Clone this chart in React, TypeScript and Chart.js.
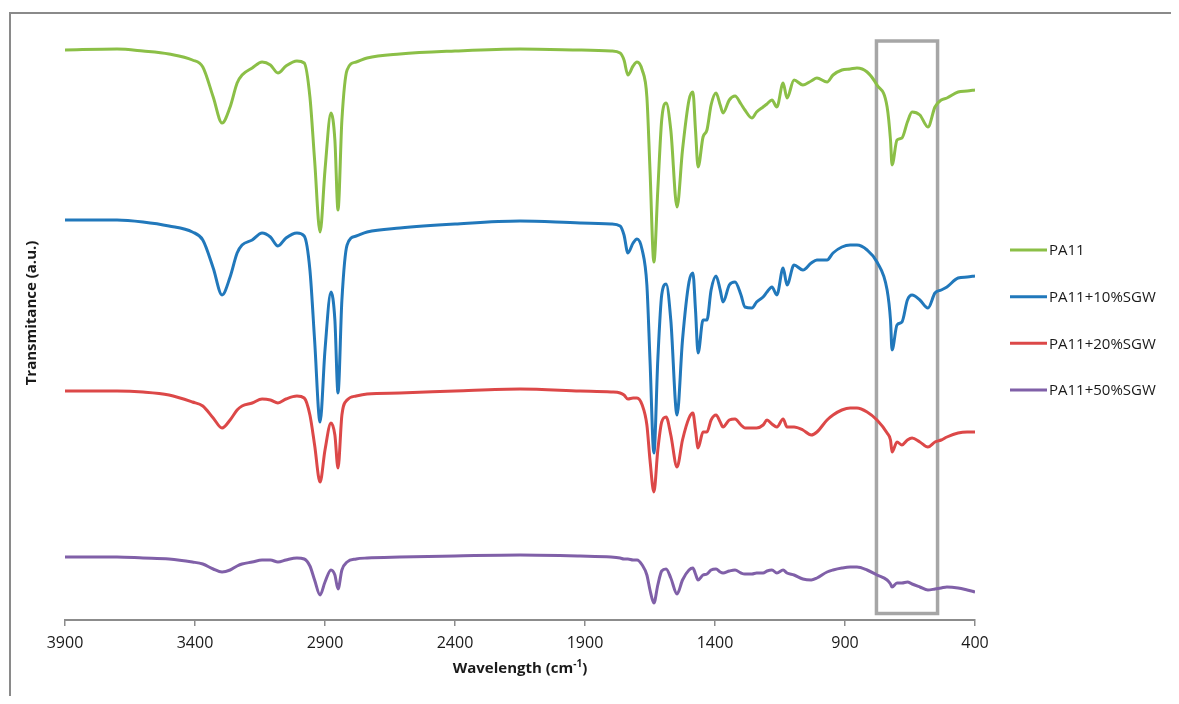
import React, { useEffect, useRef } from "react";
import { Chart, registerables } from "chart.js";

Chart.register(...registerables);

// Wavenumber grid (cm-1), shared by all spectra
const wavenumbers = [
  3900, 3700, 3600, 3500, 3410, 3370, 3330, 3296, 3265, 3238,
  3219, 3180, 3142, 3110, 3081, 3050, 3008, 2980, 2958, 2940,
  2919, 2900, 2877, 2862, 2850, 2835, 2815, 2780, 2738, 2612,
  2400, 2150, 1919, 1800, 1765, 1750, 1735, 1715, 1700, 1680,
  1662, 1650, 1635, 1620, 1605, 1588, 1570, 1546, 1525, 1500,
  1485, 1475, 1465, 1446, 1431, 1415, 1396, 1380, 1369, 1345,
  1323, 1300, 1285, 1258, 1240, 1215, 1200, 1181, 1162, 1138,
  1123, 1096, 1062, 1030, 1008, 969, 946, 912, 880, 854,
  815, 777, 738, 725, 719, 700, 681, 660, 642, 612,
  581, 554, 530, 508, 465, 430, 400,
];

// Transmittance (a.u., offset stacked)
const pa11 = [
  570, 571, 569, 566, 560, 553, 523, 497, 513, 537,
  545, 552, 558, 555, 547, 554, 559, 557, 523, 460,
  388, 450, 507, 480, 410, 500, 550, 558, 562, 566,
  569, 571, 570, 569, 567, 560, 545, 554, 558, 550,
  523, 450, 358, 430, 500, 517, 490, 413, 470, 520,
  528, 490, 453, 483, 490, 515, 527, 515, 507, 520,
  524, 516, 510, 502, 508, 513, 516, 520, 513, 537,
  522, 540, 535, 539, 542, 538, 545, 550, 551, 552,
  548, 535, 513, 480, 455, 480, 482, 498, 508, 505,
  493, 513, 520, 522, 528, 529, 530,
];

const pa11Sgw10 = [
  400, 400, 398, 394, 388, 380, 352, 325, 343, 367,
  375, 380, 387, 383, 374, 382, 387, 384, 350, 280,
  198, 270, 328, 300, 227, 320, 375, 384, 388, 392,
  396, 399, 397, 396, 394, 385, 367, 377, 381, 370,
  335, 260, 167, 260, 325, 336, 300, 205, 280, 338,
  347, 310, 267, 300, 300, 330, 344, 330, 318, 335,
  338, 325, 313, 312, 318, 323, 328, 333, 325, 352,
  335, 355, 350, 357, 360, 360, 367, 373, 375, 375,
  370, 358, 330, 300, 270, 295, 298, 320, 325, 320,
  312, 327, 330, 333, 342, 343, 344,
];

const pa11Sgw20 = [
  229, 229, 228, 225, 218, 214, 202, 192, 200, 210,
  214, 217, 221, 220, 217, 221, 224, 222, 205, 175,
  138, 170, 197, 185, 152, 205, 220, 224, 226, 227,
  229, 231, 229, 228, 227, 225, 221, 222, 222, 215,
  195, 160, 128, 170, 198, 203, 185, 153, 180, 202,
  207, 190, 172, 188, 188, 200, 205, 198, 193, 200,
  201, 195, 192, 192, 192, 195, 200, 196, 193, 201,
  193, 193, 190, 185, 188, 200, 205, 210, 212, 212,
  208, 200, 187, 180, 168, 178, 175, 180, 182, 178,
  173, 178, 180, 183, 187, 188, 188,
];

const pa11Sgw50 = [
  63, 63, 62, 61, 58, 56, 51, 48, 50, 54,
  56, 58, 60, 60, 58, 60, 62, 61, 54, 40,
  25, 38, 50, 45, 31, 50, 58, 61, 62, 63,
  64, 65, 64, 63, 62, 61, 61, 60, 60, 55,
  45, 30, 17, 35, 49, 51, 42, 26, 40, 50,
  52, 46, 40, 45, 46, 50, 51, 48, 47, 49,
  50, 47, 46, 46, 47, 47, 49, 50, 47, 50,
  47, 45, 41, 40, 42, 48, 50, 52, 53, 53,
  50, 45, 40, 36, 33, 37, 37, 38, 36, 33,
  30, 31, 32, 33, 32, 30, 28,
];

const seriesLabels = ["PA11", "PA11+10%SGW", "PA11+20%SGW", "PA11+50%SGW"];
const seriesValues = [pa11, pa11Sgw10, pa11Sgw20, pa11Sgw50];
const seriesColors = ["#8bbf47", "#2178bb", "#dc4848", "#8060a8"];

const xTicks = [3900, 3400, 2900, 2400, 1900, 1400, 900, 400];
// highlighted region (cm-1) and its vertical extent (a.u.)
const highlightRange = [779, 544];
const highlightLevels = [6.5, 579];

const FONT = "'Open Sans', 'Noto Sans', sans-serif";
const TEXT = "#1a1a1a";

const decorPlugin = {
  id: "decor",
  beforeDatasetsDraw(chart: any) {
    const { ctx, scales } = chart;
    const x = scales.x;
    const y = scales.y;
    const x1 = x.getPixelForValue(highlightRange[0]);
    const x2 = x.getPixelForValue(highlightRange[1]);
    const y1 = y.getPixelForValue(highlightLevels[1]);
    const y2 = y.getPixelForValue(highlightLevels[0]);
    ctx.save();
    ctx.strokeStyle = "#a6a6a6";
    ctx.lineWidth = 3.5;
    ctx.strokeRect(x1, y1, x2 - x1, y2 - y1);
    ctx.restore();
  },
  afterDraw(chart: any) {
    const { ctx, chartArea } = chart;
    const { left, right, top, bottom } = chartArea;
    ctx.save();
    // legend
    const cy = (top + bottom) / 2;
    ctx.font = `15px ${FONT}`;
    ctx.textBaseline = "middle";
    ctx.textAlign = "left";
    seriesLabels.forEach((lab, i) => {
      const yy = cy + (i - 1.5) * 46.7;
      ctx.strokeStyle = seriesColors[i];
      ctx.lineWidth = 3;
      ctx.lineCap = "butt";
      ctx.beginPath();
      ctx.moveTo(right + 35, yy);
      ctx.lineTo(right + 72, yy);
      ctx.stroke();
      ctx.fillStyle = TEXT;
      ctx.fillText(lab, right + 74, yy + 1);
    });
    // x title with superscript
    const main = "Wavelength (cm";
    const sup = "-1";
    const close = ")";
    ctx.fillStyle = TEXT;
    ctx.font = `bold 15px ${FONT}`;
    const wMain = ctx.measureText(main).width;
    const wClose = ctx.measureText(close).width;
    ctx.font = `bold 10px ${FONT}`;
    const wSup = ctx.measureText(sup).width;
    const total = wMain + wSup + wClose;
    const tx = (left + right) / 2 - total / 2;
    const ty = bottom + 49;
    ctx.textAlign = "left";
    ctx.textBaseline = "middle";
    ctx.font = `bold 15px ${FONT}`;
    ctx.fillText(main, tx, ty);
    ctx.font = `bold 10px ${FONT}`;
    ctx.fillText(sup, tx + wMain, ty - 5);
    ctx.font = `bold 15px ${FONT}`;
    ctx.fillText(close, tx + wMain + wSup, ty);
    // y title
    ctx.translate(left - 33, cy - 7);
    ctx.rotate(-Math.PI / 2);
    ctx.textAlign = "center";
    ctx.font = `bold 15px ${FONT}`;
    ctx.fillText("Transmitance (a.u.)", 0, 0);
    ctx.restore();
  },
};

export default function App() {
  const ref = useRef<HTMLCanvasElement | null>(null);

  useEffect(() => {
    if (!ref.current) return;
    const datasets = seriesValues.map((vals, i) => ({
      label: seriesLabels[i],
      data: wavenumbers.map((w, j) => ({ x: w, y: vals[j] })),
      borderColor: seriesColors[i],
      backgroundColor: seriesColors[i],
      borderWidth: 3,
      pointRadius: 0,
      fill: false,
      cubicInterpolationMode: "monotone" as const,
    }));
    const chart = new Chart(ref.current, {
      type: "line",
      data: { datasets },
      options: {
        animation: false,
        responsive: false,
        maintainAspectRatio: false,
        layout: { padding: { left: 57, right: 196, top: 12, bottom: 6 } },
        plugins: {
          legend: { display: false },
          tooltip: { enabled: false },
        },
        scales: {
          x: {
            type: "linear",
            reverse: true,
            min: 400,
            max: 3900,
            afterBuildTicks: (s: any) => {
              s.ticks = xTicks.map((v) => ({ value: v }));
            },
            afterFit: (s: any) => {
              s.height = 70;
            },
            ticks: {
              autoSkip: false,
              maxRotation: 0,
              padding: 8,
              color: TEXT,
              font: { family: FONT, size: 16 },
              callback: (v: any) => String(v),
            },
            grid: {
              drawOnChartArea: false,
              drawTicks: true,
              tickLength: 6,
              color: "#8c8c8c",
              lineWidth: 1.5,
            },
            border: { display: true, color: "#8c8c8c", width: 2 },
          },
          y: { display: false, min: 0, max: 600 },
        },
      },
      plugins: [decorPlugin],
    } as any);
    return () => chart.destroy();
  }, []);

  return (
    <div
      style={{
        position: "relative",
        width: 1163,
        height: 688,
        background: "#fff",
      }}
    >
      <div
        style={{
          position: "absolute",
          left: 1,
          top: 4,
          width: 2,
          height: 692,
          background: "#8a8a8a",
        }}
      />
      <div
        style={{
          position: "absolute",
          left: 1,
          top: 4,
          width: 1170,
          height: 2,
          background: "#8a8a8a",
        }}
      />
      <canvas
        ref={ref}
        width={1163}
        height={688}
        style={{ position: "absolute", left: 0, top: 0, width: 1163, height: 688 }}
      />
    </div>
  );
}
